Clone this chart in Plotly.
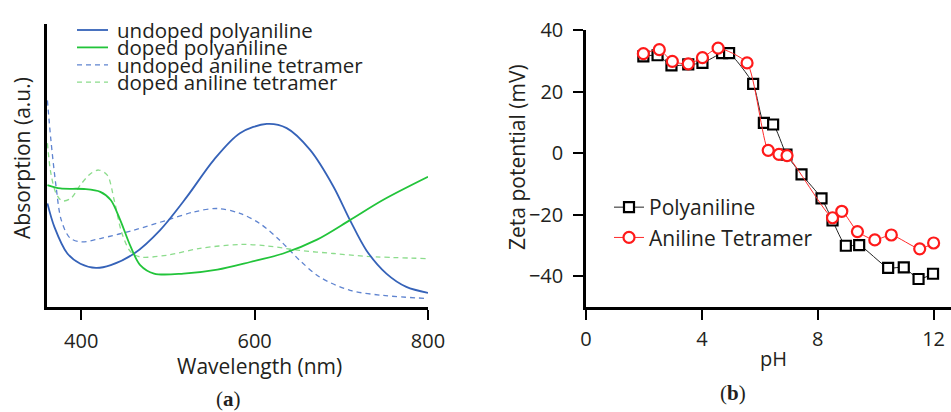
import plotly.graph_objects as go

# ---------------- data: panel (a) UV-vis absorption ----------------
series_a_names = ["undoped polyaniline", "doped polyaniline",
                  "undoped aniline tetramer", "doped aniline tetramer"]

wl_undoped_pani = [361, 369, 384, 399, 417, 434, 461, 491, 522, 553, 583, 614, 637, 664, 691, 710, 729, 752, 775, 800]
abs_undoped_pani = [36.6, 28.3, 18.9, 15.3, 13.8, 14.8, 18.9, 27.2, 39, 52, 61.4, 64.7, 63.2, 55.5, 42.5, 30.7, 20, 11.8, 7.1, 5]

wl_doped_pani = [361, 376, 403, 422, 434, 445, 457, 468, 484, 518, 557, 595, 633, 672, 710, 748, 800]
abs_doped_pani = [43.1, 41.9, 41.7, 40.7, 37.8, 30.7, 21.3, 14.8, 11.8, 11.8, 13.2, 15.9, 18.9, 23.8, 30.7, 37.8, 46]

wl_undoped_tet = [361, 365, 371, 377, 387, 400, 422, 461, 499, 530, 557, 583, 606, 629, 652, 675, 710, 748, 800]
abs_undoped_tet = [73, 59, 42.5, 30.7, 24.4, 23.0, 24.2, 27.2, 30.7, 33.6, 34.8, 33.1, 29.5, 23.6, 16.5, 10.6, 5.9, 4.1, 3]

wl_doped_tet = [361, 365, 371, 378, 388, 399, 411, 420, 430, 438, 447, 457, 468, 499, 537, 583, 614, 652, 691, 729, 800]
abs_doped_tet = [57.9, 47.2, 40.1, 37.5, 38.4, 43.1, 47.2, 48.4, 46.6, 37.8, 26, 19.5, 17.7, 18.3, 20.7, 22.1, 21.6, 20, 18.9, 17.9, 17.1]

wl_ticks = [400, 600, 800]

# ---------------- data: panel (b) zeta potential ----------------
series_b_names = ["Polyaniline", "Aniline Tetramer"]
pani_pH = [1.98, 2.47, 2.95, 3.53, 4.02, 4.70, 4.94, 5.77, 6.14, 6.46, 6.92, 7.44, 8.13, 8.51, 8.97, 9.43, 10.43, 10.97, 11.48, 11.98]
pani_zeta = [31.4, 31.8, 28.5, 28.8, 29.3, 32.5, 32.5, 22.5, 9.8, 9.3, -0.5, -6.9, -14.7, -21.9, -30.1, -29.9, -37.3, -37.1, -40.9, -39.2]
tet_pH = [1.98, 2.53, 2.98, 3.53, 4.02, 4.56, 5.56, 6.29, 6.66, 6.94, 8.51, 8.83, 9.37, 9.97, 10.54, 11.52, 12.0]
tet_zeta = [32.3, 33.6, 29.8, 29.0, 31.0, 34.1, 29.3, 0.9, -0.4, -0.8, -21.0, -18.9, -25.5, -28.2, -26.6, -31.1, -29.2]
ph_ticks = [0, 4, 8, 12]
zeta_ticks = [-40, -20, 0, 20, 40]

# ---------------- styles ----------------
W, H = 951, 412
FONT = "Open Sans"
TXT = "#231f20"
c_blue = "#3562b8"
c_green = "#22c43a"
c_blue_d = "#5f84d0"
c_green_d = "#8cdc8c"
styles_a = [
    dict(color=c_blue, width=1.8, dash="solid"),
    dict(color=c_green, width=1.8, dash="solid"),
    dict(color=c_blue_d, width=1.3, dash="5px,4px"),
    dict(color=c_green_d, width=1.3, dash="5px,4px"),
]
data_a = [(wl_undoped_tet, abs_undoped_tet, 2), (wl_doped_tet, abs_doped_tet, 3),
          (wl_undoped_pani, abs_undoped_pani, 0), (wl_doped_pani, abs_doped_pani, 1)]

fig = go.Figure()
for xs, ys, i in data_a:
    fig.add_trace(go.Scatter(x=xs, y=ys, mode="lines", name=series_a_names[i],
                             line=dict(shape="spline", smoothing=0.9, **styles_a[i]),
                             showlegend=False, xaxis="x", yaxis="y", hoverinfo="skip"))

fig.add_trace(go.Scatter(x=pani_pH, y=pani_zeta, mode="lines+markers", name=series_b_names[0],
                         line=dict(color="#222222", width=1, shape="spline", smoothing=0.6),
                         marker=dict(symbol="square", size=10, color="white",
                                     line=dict(color="black", width=2.2)),
                         xaxis="x2", yaxis="y2", legend="legend2"))
fig.add_trace(go.Scatter(x=tet_pH, y=tet_zeta, mode="lines+markers", name=series_b_names[1],
                         line=dict(color="#ff2a2a", width=1, shape="spline", smoothing=0.6),
                         marker=dict(symbol="circle", size=11, color="white",
                                     line=dict(color="#ff1a1a", width=2.2)),
                         xaxis="x2", yaxis="y2", legend="legend2"))

def px_x(p):
    return p / W

def px_y(p):
    return 1 - p / H

axis_common = dict(showgrid=False, zeroline=False, showline=True, linecolor="black",
                   linewidth=2.5, ticks="outside", tickcolor="black", tickwidth=2,
                   ticklen=10, automargin=False,
                   tickfont=dict(family=FONT, size=20, color=TXT))

# manual compact legend for panel (a)
shapes = []
annotations = []
for i, name in enumerate(series_a_names):
    yy = px_y(30 + 17.4 * i)
    st = styles_a[i]
    shapes.append(dict(type="line", xref="paper", yref="paper",
                       x0=px_x(77), x1=px_x(108), y0=yy, y1=yy,
                       line=dict(color=st["color"], width=st["width"], dash=st["dash"])))
    annotations.append(dict(text=name, xref="paper", yref="paper", x=px_x(115), y=yy,
                            xanchor="left", yanchor="middle", showarrow=False,
                            font=dict(family=FONT, size=20.5, color=TXT)))

# axis titles and panel labels
annotations += [
    dict(text="Absorption (a.u.)", xref="paper", yref="paper", x=px_x(22), y=px_y(158),
         textangle=-90, showarrow=False, xanchor="center", yanchor="middle",
         font=dict(family=FONT, size=21, color=TXT)),
    dict(text="Wavelength (nm)", xref="paper", yref="paper", x=px_x(259), y=px_y(366),
         showarrow=False, xanchor="center", yanchor="middle",
         font=dict(family=FONT, size=21, color=TXT)),
    dict(text="Zeta potential (mV)", xref="paper", yref="paper", x=px_x(517), y=px_y(157),
         textangle=-90, showarrow=False, xanchor="center", yanchor="middle",
         font=dict(family=FONT, size=21, color=TXT)),
    dict(text="pH", xref="paper", yref="paper", x=px_x(773), y=px_y(358),
         showarrow=False, xanchor="center", yanchor="middle",
         font=dict(family=FONT, size=20, color=TXT)),
    dict(text="(<b>a</b>)", xref="paper", yref="paper", x=px_x(228), y=px_y(399),
         showarrow=False, xanchor="center", yanchor="middle",
         font=dict(family="Liberation Serif", size=21, color=TXT)),
    dict(text="(<b>b</b>)", xref="paper", yref="paper", x=px_x(733), y=px_y(393),
         showarrow=False, xanchor="center", yanchor="middle",
         font=dict(family="Liberation Serif", size=21, color=TXT)),
]

fig.update_layout(
    width=W, height=H, margin=dict(l=0, r=0, t=0, b=0, autoexpand=False),
    paper_bgcolor="white", plot_bgcolor="white",
    font=dict(family=FONT, color=TXT),
    xaxis=dict(domain=[px_x(47), px_x(428)], range=[360.5, 800], tickvals=wl_ticks,
               ticklabelstandoff=4, **axis_common),
    yaxis=dict(domain=[px_y(307), px_y(24)], range=[0, 100], showticklabels=False,
               **{k: v for k, v in axis_common.items() if k not in ("ticks",)}, ticks=""),
    xaxis2=dict(domain=[px_x(586), 1.0], range=[0, 12.6], tickvals=ph_ticks,
                anchor="y2", ticklabelstandoff=2, **axis_common),
    yaxis2=dict(domain=[px_y(307), px_y(30)], range=[-50, 40], tickvals=zeta_ticks,
                anchor="x2", ticklabelstandoff=6, **axis_common),
    legend2=dict(x=px_x(609), y=px_y(187), xanchor="left", yanchor="top",
                 bgcolor="rgba(0,0,0,0)", font=dict(family=FONT, size=21, color=TXT),
                 tracegroupgap=0),
    showlegend=True,
    shapes=shapes, annotations=annotations,
)

fig.write_html("out.html",
               config={"displayModeBar": False, "responsive": False},
               post_script="document.body.style.margin='0px';"
                           "document.body.style.overflow='hidden';")
